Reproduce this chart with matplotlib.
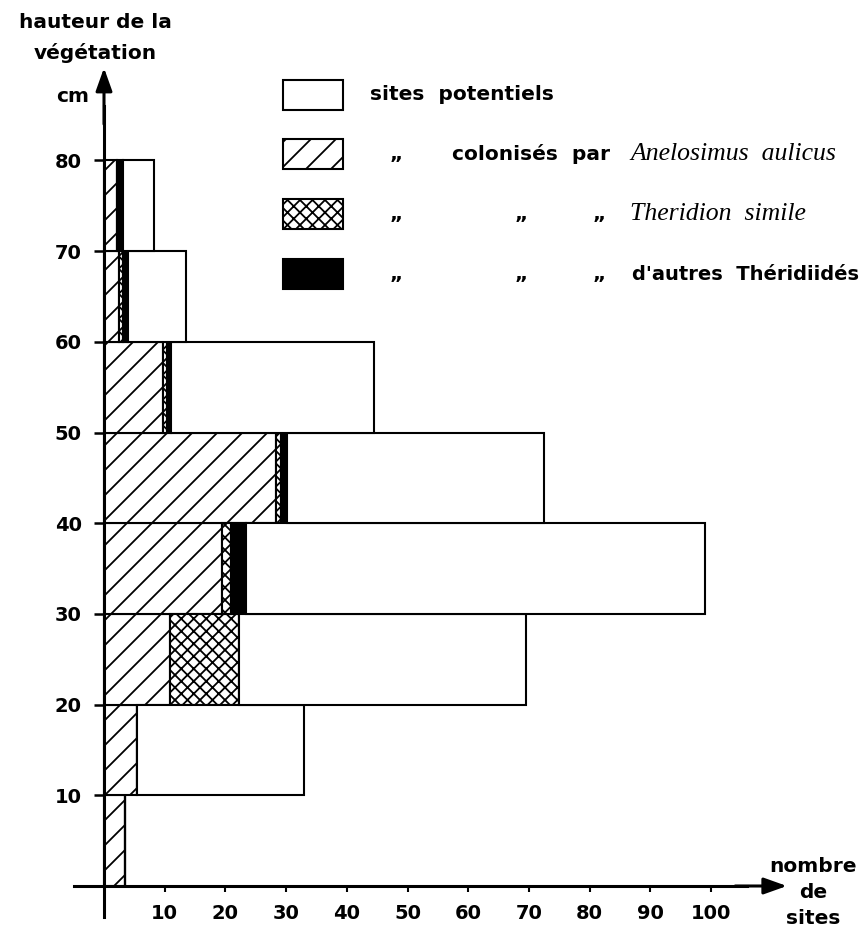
import numpy as np
import matplotlib
matplotlib.use('Agg')
import matplotlib.pyplot as plt
import matplotlib.backend_bases as bb
from matplotlib.patches import Rectangle

plt.rcParams['font.family'] = ['DejaVu Sans']
plt.rcParams['font.weight'] = 'bold'
plt.rcParams['hatch.linewidth'] = 1.3

# hachures un peu plus serrees que '/' et moins que '//'
_hatch_path = bb.GraphicsContextBase.get_hatch_path
bb.GraphicsContextBase.get_hatch_path = lambda self, density=6.0: _hatch_path(self, 8.0)

# classes de hauteur (cm) : bas de chaque classe de 10 cm
hauteur = np.array([0, 10, 20, 30, 40, 50, 60, 70])
potentiels = np.array([3.5, 33, 69.5, 99, 72.5, 44.5, 13.5, 8.3])
anelosimus = np.array([3.5, 5.5, 10.8, 19.4, 28.3, 9.7, 2.4, 2.2])
theridion = np.array([0, 0, 11.4, 1.6, 0.8, 0.7, 0.7, 0])
autres = np.array([0, 0, 0, 2.4, 1.1, 0.6, 0.8, 1.0])

x_ticks = [10, 20, 30, 40, 50, 60, 70, 80, 90, 100]
y_ticks = [10, 20, 30, 40, 50, 60, 70, 80]

W, H = 867, 926
fig = plt.figure(figsize=(W / 100, H / 100), dpi=100)
ax = fig.add_axes([0, 0, 1, 1])

# echelle: origine a (104, 886) px, 6.07 px / site, 9.07 px / cm
sx, sy = 6.07, 9.07
ax.set_xlim(-104 / sx, (W - 104) / sx)
ax.set_ylim((886 - H) / sy, 886 / sy)

lw = 1.5
bas = anelosimus
ax.barh(hauteur, anelosimus, height=10, align='edge', color='white',
        edgecolor='k', hatch='/', lw=lw)
ax.barh(hauteur, theridion, left=bas, height=10, align='edge', color='white',
        edgecolor='k', hatch='xx', lw=lw)
bas = bas + theridion
ax.barh(hauteur, autres, left=bas, height=10, align='edge', color='k',
        edgecolor='k', lw=lw)
bas = bas + autres
ax.barh(hauteur, potentiels - bas, left=bas, height=10, align='edge',
        color='white', edgecolor='k', lw=lw)

# axes en croix avec fleches
for s in ['top', 'right']:
    ax.spines[s].set_visible(False)
for s in ['left', 'bottom']:
    ax.spines[s].set_position(('data', 0))
    ax.spines[s].set_linewidth(2.2)
    ax.spines[s].set_zorder(5)
ax.spines['bottom'].set_bounds(-5, 106)
ax.spines['left'].set_bounds(-3.4, 86)
arr = dict(arrowstyle='-|>,head_length=0.7,head_width=0.25', color='k',
           lw=2.2, shrinkA=0, shrinkB=0, mutation_scale=20)
ax.annotate('', xy=(112.5, 0), xytext=(104, 0), arrowprops=arr)
ax.annotate('', xy=(0, 90.2), xytext=(0, 84), arrowprops=arr)

ax.set_xticks(x_ticks)
ax.set_yticks(y_ticks)
ax.tick_params(axis='x', direction='out', length=4, width=1.5, pad=9, labelsize=14)
ax.tick_params(axis='y', direction='out', length=7, width=1.8, pad=9, labelsize=14)


def px(x, y):
    return x / W, 1 - y / H


fs = 14.5
fig.text(*px(95, 22), 'hauteur de la', ha='center', va='center', fontsize=fs)
fig.text(*px(95, 53), 'végétation', ha='center', va='center', fontsize=fs)
fig.text(*px(89, 96), 'cm', ha='right', va='center', fontsize=fs)
fig.text(*px(813, 866), 'nombre', ha='center', va='center', fontsize=fs)
fig.text(*px(813, 893), 'de', ha='center', va='center', fontsize=fs)
fig.text(*px(813, 918), 'sites', ha='center', va='center', fontsize=fs)

# legende
rows = [95, 154, 214, 274]
styles = [dict(hatch=None, fc='white'), dict(hatch='/', fc='white'),
          dict(hatch='xx', fc='white'), dict(hatch=None, fc='k')]
for yc, st in zip(rows, styles):
    x0, y0 = px(283, yc + 15)
    fig.patches.append(Rectangle((x0, y0), 60 / W, 30 / H, transform=fig.transFigure,
                                 facecolor=st['fc'], edgecolor='k', hatch=st['hatch'],
                                 lw=lw))
ital = dict(family=['Liberation Serif', 'DejaVu Serif'], style='italic',
            weight='normal', fontsize=18.5, va='center')
fig.text(*px(370, rows[0]), 'sites  potentiels', va='center', fontsize=fs)
for yc in rows[1:]:
    fig.text(*px(390, yc), '„', va='center', fontsize=fs)
for yc in rows[2:]:
    fig.text(*px(515, yc), '„', va='center', fontsize=fs)
    fig.text(*px(593, yc), '„', va='center', fontsize=fs)
fig.text(*px(452, rows[1]), 'colonisés  par', va='center', fontsize=fs)
fig.text(*px(630, rows[1]), 'Anelosimus  aulicus', **ital)
fig.text(*px(630, rows[2]), 'Theridion  simile', **ital)
fig.text(*px(632, rows[3]), "d'autres  Théridiidés", va='center', fontsize=14)

fig.savefig('out.png', dpi=100)
